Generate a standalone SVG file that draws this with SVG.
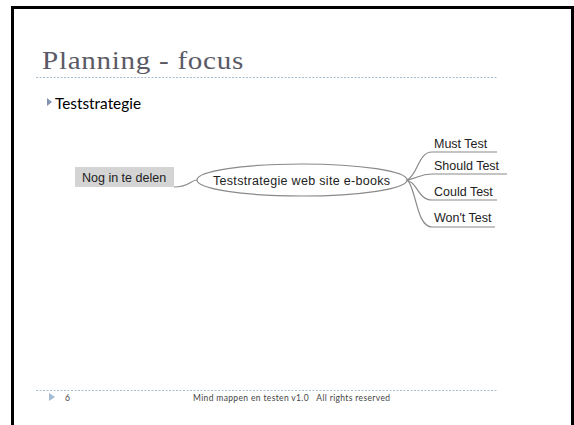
<svg xmlns="http://www.w3.org/2000/svg" width="574" height="425" viewBox="0 0 574 425">
<style>
.mm{font-family:"Liberation Sans",Arial,sans-serif;font-size:12.5px;fill:#222}
.link{fill:none;stroke:#8a8a8a;stroke-width:1.2}
.dots{stroke:#a8bccf;stroke-width:1;stroke-dasharray:2 1.5}
.gill{font-family:"Lato","Open Sans","Liberation Sans",sans-serif}
</style>
<rect x="0" y="0" width="574" height="425" fill="#fff"/>
<path d="M12.5 425 V7.5 H572.5 V425" fill="none" stroke="#000" stroke-width="3"/>
<g id="title">
<text x="42" y="69" font-family="'Liberation Serif','DejaVu Serif',serif" font-size="25" fill="#5a5a66" letter-spacing="0.6" textLength="202" lengthAdjust="spacingAndGlyphs">Planning - focus</text>
<line class="dots" x1="36" y1="77.5" x2="498" y2="77.5"/>
</g>
<g id="bullet">
<path d="M47 98 L52 102 L47 106 Z" fill="#8593b3"/>
<text class="gill" x="55" y="109" font-size="16" fill="#000" textLength="86" lengthAdjust="spacingAndGlyphs">Teststrategie</text>
</g>
<g id="connectors">
<path class="link" d="M174 187 C190 187 190 180 197 180"/>
<path class="link" d="M407 180 C418 175 418 152 432 152 H497"/>
<path class="link" d="M407 180 C418 178 420 174 432 174 H507"/>
<path class="link" d="M407 180 C418 183 418 200 432 200 H497"/>
<path class="link" d="M407 180 C416 186 416 227 432 227 H495"/>
</g>
<g id="node-nog">
<rect x="75" y="167" width="99" height="20" fill="#d4d4d4"/>
<text class="mm" x="82" y="182">Nog in te delen</text>
</g>
<g id="node-center">
<ellipse cx="302" cy="180" rx="105" ry="16" fill="#fff" stroke="#8a8a8a" stroke-width="1.2"/>
<text class="mm" x="213" y="184.5" textLength="177" lengthAdjust="spacing">Teststrategie web site e-books</text>
</g>
<g id="node-must"><text class="mm" x="434" y="148">Must Test</text></g>
<g id="node-should"><text class="mm" x="434" y="170">Should Test</text></g>
<g id="node-could"><text class="mm" x="434" y="196">Could Test</text></g>
<g id="node-wont"><text class="mm" x="434" y="222">Won't Test</text></g>
<g id="footer">
<line class="dots" x1="36" y1="390.5" x2="498" y2="390.5"/>
<path d="M49 393 L55 397 L49 401 Z" fill="#a3bbd3"/>
<text class="gill" x="65" y="401" font-size="8.5" fill="#444">6</text>
<text class="gill" x="193" y="401" font-size="8.5" fill="#444" xml:space="preserve" textLength="197" lengthAdjust="spacing">Mind mappen en testen v1.0   All rights reserved</text>
</g>
</svg>
